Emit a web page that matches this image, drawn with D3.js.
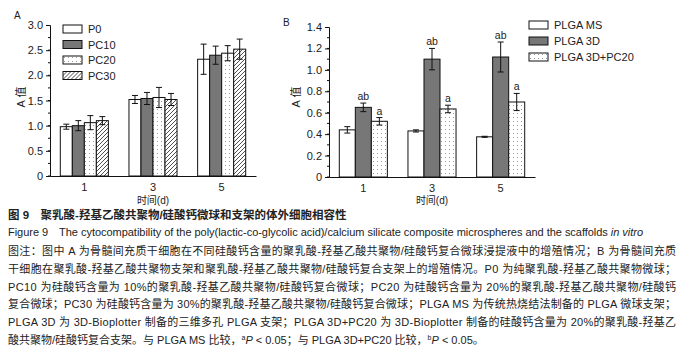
<!DOCTYPE html>
<html>
<head>
<meta charset="utf-8">
<script src="https://cdn.jsdelivr.net/npm/d3@7"></script>
<style>
  body { margin: 0; background: #fff; }
  svg { display: block; }
  text { font-family: "Liberation Sans", Arial, "Noto Sans CJK SC", sans-serif; fill: #222; }
  .cjk { font-family: "Liberation Sans", "Noto Sans CJK SC", sans-serif; }
</style>
</head>
<body>
<svg id="fig" width="686" height="356"></svg>
<script>
// time points (d)
const days = ["1", "3", "5"];

// panel A: microsphere extracts
const seriesA = ["P0", "PC10", "PC20", "PC30"];
const valuesA = [
  [0.98, 1.52, 2.32],
  [1.00, 1.54, 2.40],
  [1.06, 1.56, 2.44],
  [1.10, 1.52, 2.52]
];
const errorsA = [
  [0.05, 0.08, 0.30],
  [0.10, 0.12, 0.18],
  [0.14, 0.20, 0.15],
  [0.08, 0.12, 0.20]
];
const ticksA = [0, 0.5, 1.0, 1.5, 2.0, 2.5, 3.0];

// panel B: scaffolds
const seriesB = ["PLGA MS", "PLGA 3D", "PLGA 3D+PC20"];
const valuesB = [
  [0.44, 0.43, 0.375],
  [0.65, 1.10, 1.12],
  [0.52, 0.635, 0.70]
];
const errorsB = [
  [0.03, 0.01, 0.005],
  [0.04, 0.10, 0.14],
  [0.035, 0.035, 0.08]
];
const sigB = [
  ["", "", ""],
  ["ab", "ab", "ab"],
  ["a", "a", "a"]
];
const ticksB = [0, 0.2, 0.4, 0.6, 0.8, 1.0, 1.2, 1.4];

const captionLines = [
  "图注：图中 A 为骨髓间充质干细胞在不同硅酸钙含量的聚乳酸-羟基乙酸共聚物/硅酸钙复合微球浸提液中的增殖情况；B 为骨髓间充质",
  "干细胞在聚乳酸-羟基乙酸共聚物支架和聚乳酸-羟基乙酸共聚物/硅酸钙复合支架上的增殖情况。P0 为纯聚乳酸-羟基乙酸共聚物微球；",
  "PC10 为硅酸钙含量为 10%的聚乳酸-羟基乙酸共聚物/硅酸钙复合微球；PC20 为硅酸钙含量为 20%的聚乳酸-羟基乙酸共聚物/硅酸钙",
  "复合微球；PC30 为硅酸钙含量为 30%的聚乳酸-羟基乙酸共聚物/硅酸钙复合微球；PLGA MS 为传统热烧结法制备的 PLGA 微球支架；",
  "PLGA 3D 为 3D-Bioplotter 制备的三维多孔 PLGA 支架；PLGA 3D+PC20 为 3D-Bioplotter 制备的硅酸钙含量为 20%的聚乳酸-羟基乙"
];

const fills = {
  white: "#fff",
  dark: "#777",
  dots: "url(#dots)",
  hatch: "url(#hatch)"
};
const fillA = [fills.white, fills.dark, fills.dots, fills.hatch];
const fillB = [fills.white, fills.dark, fills.dots];

const svg = d3.select("#fig");

// patterns
const defs = svg.append("defs");
const dots = defs.append("pattern")
  .attr("id", "dots")
  .attr("patternUnits", "userSpaceOnUse")
  .attr("width", 4).attr("height", 4);
dots.append("rect").attr("width", 4).attr("height", 4).attr("fill", "#fff");
dots.append("rect").attr("x", 1).attr("y", 1).attr("width", 1).attr("height", 1).attr("fill", "#999");

const hatch = defs.append("pattern")
  .attr("id", "hatch")
  .attr("patternUnits", "userSpaceOnUse")
  .attr("width", 4).attr("height", 4);
hatch.append("rect").attr("width", 4).attr("height", 4).attr("fill", "#fff");
hatch.append("path")
  .attr("d", "M-1,1 l2,-2 M0,4 l4,-4 M3,5 l2,-2")
  .attr("stroke", "#222").attr("stroke-width", 0.8);

function drawPanel(opts) {
  const g = svg.append("g");
  const x = d3.scaleBand().domain(days).range(opts.xRange)
    .paddingInner(0.3).paddingOuter(0.15);
  const inner = d3.scaleBand().domain(d3.range(opts.series.length))
    .range([0, x.bandwidth()]);
  const y = d3.scaleLinear().domain(opts.yDomain).range(opts.yRange);

  // bars
  opts.series.forEach((s, i) => {
    g.append("g").selectAll("rect")
      .data(opts.values[i])
      .join("rect")
      .attr("x", (d, j) => x(days[j]) + inner(i))
      .attr("y", d => y(d))
      .attr("width", inner.bandwidth())
      .attr("height", d => y(0) - y(d))
      .attr("fill", opts.fill[i])
      .attr("stroke", "#111")
      .attr("stroke-width", 1);
  });

  // error bars
  opts.series.forEach((s, i) => {
    const eg = g.append("g").attr("stroke", "#111").attr("stroke-width", 1);
    opts.values[i].forEach((v, j) => {
      const cx = x(days[j]) + inner(i) + inner.bandwidth() / 2;
      const e = opts.errors[i][j];
      eg.append("line").attr("x1", cx).attr("x2", cx).attr("y1", y(v - e)).attr("y2", y(v + e));
      eg.append("line").attr("x1", cx - 3).attr("x2", cx + 3).attr("y1", y(v + e)).attr("y2", y(v + e));
      eg.append("line").attr("x1", cx - 3).attr("x2", cx + 3).attr("y1", y(v - e)).attr("y2", y(v - e));
      if (opts.sig && opts.sig[i][j]) {
        g.append("text")
          .attr("x", cx).attr("y", y(v + e) - 3)
          .attr("text-anchor", "middle")
          .attr("font-size", "10.5px")
          .text(opts.sig[i][j]);
      }
    });
  });

  // y axis with minor ticks
  const yAxis = d3.axisLeft(y).tickValues(opts.ticks).tickSize(4).tickPadding(3)
    .tickFormat(d => d === 0 ? "0" : d3.format(".1f")(d));
  const ya = g.append("g").attr("transform", `translate(${opts.xRange[0]},0)`).call(yAxis);
  ya.select(".domain").attr("stroke", "#111");
  ya.selectAll(".tick line").attr("stroke", "#111");
  ya.selectAll("text").attr("font-size", "11px").attr("fill", "#222");
  const minor = d3.range(opts.ticks[0], opts.ticks[opts.ticks.length - 1], opts.minorStep);
  g.append("g").selectAll("line")
    .data(minor)
    .join("line")
    .attr("x1", opts.xRange[0] - 2).attr("x2", opts.xRange[0])
    .attr("y1", d => y(d)).attr("y2", d => y(d))
    .attr("stroke", "#111");

  // x axis
  const xa = g.append("g").attr("transform", `translate(0,${y(0)})`)
    .call(d3.axisBottom(x).tickSize(0).tickPadding(7).tickSizeOuter(0));
  xa.select(".domain").attr("stroke", "#111");
  xa.selectAll("text").attr("font-size", "11px").attr("fill", "#222");

  // titles
  g.append("text").attr("class", "cjk")
    .attr("x", (opts.xRange[0] + opts.xRange[1]) / 2).attr("y", 204)
    .attr("text-anchor", "middle").attr("font-size", "10px")
    .text("时间(d)");
  g.append("text").attr("class", "cjk")
    .attr("transform", `translate(${opts.yLabelX},${opts.yLabelY}) rotate(-90)`)
    .attr("text-anchor", "middle").attr("font-size", "11px")
    .text("A 值");
  g.append("text")
    .attr("x", opts.panelX).attr("y", opts.panelY)
    .attr("font-size", "10px")
    .text(opts.panel);

  // legend
  const lg = g.append("g").attr("transform", `translate(${opts.legendX},${opts.legendY})`);
  opts.series.forEach((s, i) => {
    const row = lg.append("g").attr("transform", `translate(0,${i * opts.legendStep})`);
    row.append("rect").attr("width", 19).attr("height", 8)
      .attr("fill", opts.fill[i]).attr("stroke", "#111");
    row.append("text").attr("x", 25).attr("y", 8).attr("font-size", "11px").text(s);
  });
}

drawPanel({
  panel: "A", panelX: 14, panelY: 19,
  series: seriesA, values: valuesA, errors: errorsA, fill: fillA,
  xRange: [50, 256], yDomain: [0, 3], yRange: [176, 25],
  ticks: ticksA, minorStep: 0.25,
  yLabelX: 25, yLabelY: 97,
  legendX: 63, legendY: 25, legendStep: 15.5
});

drawPanel({
  panel: "B", panelX: 283, panelY: 26,
  series: seriesB, values: valuesB, errors: errorsB, fill: fillB, sig: sigB,
  xRange: [329, 535], yDomain: [0, 1.4], yRange: [177, 27],
  ticks: ticksB, minorStep: 0.1,
  yLabelX: 300, yLabelY: 97,
  legendX: 529, legendY: 21, legendStep: 16
});

// caption
const cap = svg.append("g").attr("class", "cjk");
const x0 = 8, x1 = 676;
cap.append("text").attr("x", x0).attr("y", 219).attr("font-size", "11.5px")
  .attr("fill", "#111").attr("font-weight", "bold")
  .text("图 9\u2003聚乳酸-羟基乙酸共聚物/硅酸钙微球和支架的体外细胞相容性");
const fig = cap.append("text").attr("x", x0).attr("y", 236).attr("font-size", "11px").attr("fill", "#111")
  .attr("textLength", 635).attr("lengthAdjust", "spacing");
fig.append("tspan").text("Figure 9\u2003The cytocompatibility of the poly(lactic-co-glycolic acid)/calcium silicate composite microspheres and the scaffolds ");
fig.append("tspan").attr("font-style", "italic").text("in vitro");

captionLines.forEach((t, i) => {
  cap.append("text")
    .attr("x", x0).attr("y", 255 + i * 17.8)
    .attr("font-size", "11px").attr("fill", "#333")
    .attr("textLength", x1 - x0).attr("lengthAdjust", "spacing")
    .text(t);
});
const last = cap.append("text").attr("x", x0).attr("y", 255 + 5 * 17.8)
  .attr("font-size", "11px").attr("fill", "#333");
last.append("tspan").text("酸共聚物/硅酸钙复合支架。与 PLGA MS 比较，");
last.append("tspan").attr("font-size", "7px").attr("dy", -4).text("a");
last.append("tspan").attr("font-style", "italic").attr("dy", 4).text("P");
last.append("tspan").text(" < 0.05；与 PLGA 3D+PC20 比较，");
last.append("tspan").attr("font-size", "7px").attr("dy", -4).text("b");
last.append("tspan").attr("font-style", "italic").attr("dy", 4).text("P");
last.append("tspan").text(" < 0.05。");
</script>
</body>
</html>
